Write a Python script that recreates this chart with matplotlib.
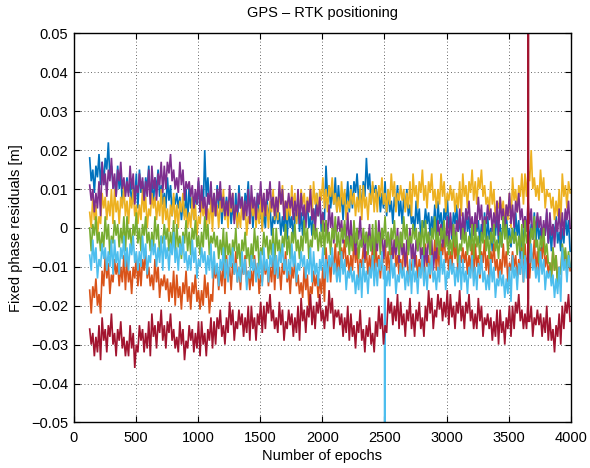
import numpy as np
import matplotlib
matplotlib.use('Agg')
import matplotlib.pyplot as plt

# ---- data: residuals in millimetres, read every 12.5 epochs from epoch 130
#      (each row = one 100-epoch stretch, alternating highs and lows of the noisy trace) ----
epoch_start = 130
epoch_step = 12.5

blue_mm = [
    18, 12, 15, 9, 16, 13, 19, 11,   17, 11, 18, 15, 22, 13, 16, 11,
    12, 8, 16, 10, 14, 6, 11, 9,     13, 9, 12, 6, 11, 7, 14, 5,
    15, 9, 12, 6, 13, 10, 16, 8,     12, 6, 13, 10, 15, 8, 11, 6,
    9, 5, 13, 7, 11, 3, 8, 6,        9, 5, 8, 2, 7, 3, 10, 1,
    11, 5, 8, 2, 9, 6, 12, 4,        10, 4, 20, 8, 13, 6, 9, 4,
    7, 3, 11, 5, 9, 1, 6, 4,         8, 4, 7, 1, 6, 2, 9, 0,
    11, 5, 8, 2, 9, 6, 12, 4,        6, 0, 7, 4, 9, 2, 5, 0,
    4, 0, 8, 2, 6, -2, 3, 1,         5, 1, 4, -2, 3, -1, 6, -3,
    6, 0, 3, -3, 4, 1, 7, -1,        4, -2, 5, 2, 7, 0, 3, -2,
    5, 1, 9, 3, 7, -1, 4, 2,         16, 8, 11, 5, 10, 6, 13, 4,
    11, 5, 8, 2, 9, 6, 12, 4,        11, 5, 12, 9, 14, 7, 10, 5,
    12, 8, 18, 10, 14, 6, 11, 9,     11, 7, 10, 4, 9, 5, 12, 3,
    10, 4, 7, 1, 8, 5, 11, 3,        7, 1, 8, 5, 10, 3, 6, 1,
    3, -1, 7, 1, 5, -3, 2, 0,        5, 1, 4, -2, 3, -1, 6, -3,
    7, 1, 4, -2, 5, 2, 8, 0,         3, -3, 4, 1, 6, -1, 2, -3,
    1, -3, 5, -1, 3, -5, 0, -2,      3, -1, 2, -4, 1, -3, 4, -5,
    3, -3, 0, -6, 1, -2, 4, -4,      1, -5, 2, -1, 4, -3, 0, -5,
    0, -4, 4, -2, 2, -8, -1, -3,     3, -1, 2, -4, 1, -3, 4, -5,
    3, -3, 0, -6, 1, -2, 4, -4,      0, -6, 1, -2, 3, -4, -1, -6,
    0, -4, 4, -2, 2, -6]

orange_mm = [
    -16, -22, -15, -18, -13, -20, -17, -22,   -11, -15, -7, -13, -9, -17, -12, -14,
    -8, -12, -9, -15, -10, -14, -7, -16,      -8, -14, -11, -17, -10, -13, -7, -15,
    -9, -15, -8, -11, -6, -13, -10, -15,      -12, -16, -8, -14, -10, -18, -13, -15,
    -12, -16, -13, -19, -14, -18, -11, -20,   -12, -18, -15, -21, -14, -17, -11, -19,
    -15, -21, -14, -17, -12, -19, -16, -21,   -16, -20, -12, -18, -14, -22, -17, -19,
    -9, -13, -10, -16, -11, -15, -8, -17,     -7, -13, -10, -16, -9, -12, -6, -14,
    -10, -16, -9, -12, -7, -14, -11, -16,     -11, -15, -7, -13, -9, -17, -12, -14,
    -8, -12, -9, -15, -10, -14, -7, -16,      -7, -13, -10, -16, -9, -12, -6, -14,
    -11, -17, -10, -13, -8, -15, -12, -17,    -14, -18, -10, -16, -12, -20, -15, -17,
    -11, -15, -12, -18, -13, -17, -10, -19,   -5, -11, -8, -14, -7, -10, -4, -12,
    -6, -12, -5, -8, -3, -10, -7, -12,        -7, -11, -3, -9, -5, -13, -8, -10,
    -5, -9, -6, -12, -7, -11, -4, -13,        -4, -10, -7, -13, -6, -9, -3, -11,
    -6, -12, -5, -8, -3, -10, -7, -12,        -8, -12, -4, -10, -6, -14, -9, -11,
    -6, -10, -7, -13, -8, -12, -5, -14,       -4, -10, -7, -13, -6, -9, -3, -11,
    -5, -11, -4, -7, -2, -9, -6, -11,         -6, -10, -2, -8, -4, -12, -7, -9,
    -5, -9, -6, -12, -7, -11, -4, -13,        -4, -10, -7, -13, -6, -9, -3, -11,
    -7, -13, -6, -9, -4, -11, -8, -13,        -8, -12, -4, -10, -6, -14, -9, -11,
    -6, -10, -7, -13, -8, -12, -5, -14,       -4, -10, -7, -13, -6, -9, -3, -11,
    -6, -12, -5, -8, -3, -10, -7, -12,        -9, -13, -5, -11, -7, -15, -10, -12,
    -5, -9, -6, -12, -7, -11]

yellow_mm = [
    4, 0, 8, 2, 6, -2, 3, 1,         9, 5, 8, 2, 7, 3, 10, 1,
    10, 4, 7, 1, 8, 5, 11, 3,        7, 1, 8, 5, 10, 3, 6, 1,
    6, 2, 10, 4, 8, 0, 5, 3,         9, 5, 8, 2, 7, 3, 10, 1,
    8, 2, 5, -1, 6, 3, 9, 1,         6, 0, 7, 4, 9, 2, 5, 0,
    4, 0, 8, 2, 6, -2, 3, 1,         7, 3, 6, 0, 5, 1, 8, -1,
    9, 3, 6, 0, 7, 4, 10, 2,         6, 0, 7, 4, 9, 2, 5, 0,
    4, 0, 8, 2, 6, -2, 3, 1,         7, 3, 6, 0, 5, 1, 8, -1,
    9, 3, 6, 0, 7, 4, 10, 2,         8, 2, 9, 6, 11, 4, 7, 2,
    7, 3, 11, 5, 9, 1, 6, 4,         10, 6, 9, 3, 8, 4, 11, 2,
    12, 6, 9, 3, 10, 7, 13, 5,       10, 4, 11, 8, 13, 6, 9, 4,
    8, 4, 12, 6, 10, 2, 7, 5,        10, 6, 9, 3, 8, 4, 11, 2,
    11, 5, 8, 2, 9, 6, 12, 4,        10, 4, 11, 8, 13, 6, 9, 4,
    10, 6, 14, 8, 12, 4, 9, 7,       11, 7, 10, 4, 9, 5, 12, 3,
    14, 8, 11, 5, 12, 9, 15, 7,      11, 5, 12, 9, 14, 7, 10, 5,
    10, 6, 14, 8, 12, 4, 9, 7,       11, 7, 10, 4, 9, 5, 12, 3,
    14, 8, 11, 5, 12, 9, 15, 7,      12, 6, 13, 10, 15, 8, 11, 6,
    8, 4, 12, 6, 10, 2, 7, 5,        8, 4, 7, 1, 6, 2, 9, 0,
    13, 7, 10, 4, 11, 8, 14, 6,      14, 8, 15, 12, 20, 10, 13, 8,
    11, 7, 15, 9, 13, 5, 10, 8,      9, 5, 8, 2, 7, 3, 10, 1,
    14, 8, 11, 5, 12, 9]

purple_mm = [
    11, 7, 10, 4, 9, 5, 12, 3,       17, 11, 14, 8, 15, 12, 18, 10,
    14, 8, 15, 12, 17, 10, 13, 8,    12, 8, 16, 10, 14, 6, 11, 9,
    14, 10, 13, 7, 12, 8, 15, 6,     16, 10, 13, 7, 14, 11, 17, 9,
    16, 10, 17, 14, 19, 12, 15, 10,  13, 9, 17, 11, 15, 7, 12, 10,
    12, 8, 11, 5, 10, 6, 13, 4,      11, 5, 8, 2, 9, 6, 12, 4,
    9, 3, 10, 7, 12, 5, 8, 3,        7, 3, 11, 5, 9, 1, 6, 4,
    9, 5, 8, 2, 7, 3, 10, 1,         11, 5, 8, 2, 9, 6, 12, 4,
    9, 3, 10, 7, 12, 5, 8, 3,        8, 4, 12, 6, 10, 2, 7, 5,
    9, 5, 8, 2, 7, 3, 10, 1,         9, 3, 6, 0, 7, 4, 10, 2,
    5, -1, 6, 3, 8, 1, 4, -1,        2, -2, 6, 0, 4, -4, 1, -1,
    3, -1, 2, -4, 1, -3, 4, -5,      2, -4, -1, -7, 0, -3, 3, -5,
    -2, -8, -1, -4, 1, -6, -3, -8,   -2, -6, 2, -4, 0, -8, -3, -5,
    -1, -5, -2, -8, -3, -7, 0, -9,   -1, -7, -4, -10, -3, -6, 0, -8,
    -4, -10, -3, -6, -1, -8, -5, -10, -5, -9, -1, -7, -3, -11, -6, -8,
    2, -2, 1, -5, 0, -4, 3, -6,      4, -2, 1, -5, 2, -1, 5, -3,
    4, -2, 5, 2, 7, 0, 3, -2,        4, 0, 8, 2, 6, -2, 3, 1,
    6, 2, 5, -1, 4, 0, 7, -2,        8, 2, 5, -1, 6, 3, 9, 1,
    6, 0, 7, 4, 9, 2, 5, 0,          3, -1, 7, 1, 5, -3, 2, 0,
    4, 0, 3, -3, 2, -2, 5, -4,       4, -2, 1, -5, 2, -1, 5, -3,
    4, -2, 5, 2, 7, 0]

green_mm = [
    0, -6, 1, -2, 3, -4, -1, -6,     -1, -5, 3, -3, 1, -7, -2, -4,
    2, -2, 1, -5, 0, -4, 3, -6,      3, -3, 0, -6, 1, -2, 4, -4,
    0, -6, 1, -2, 3, -4, -1, -6,     -1, -5, 3, -3, 1, -7, -2, -4,
    1, -3, 0, -6, -1, -5, 2, -7,     1, -5, -2, -8, -1, -4, 2, -6,
    -1, -7, 0, -3, 2, -5, -2, -7,    -1, -5, 3, -3, 1, -7, -2, -4,
    -1, -5, -2, -8, -3, -7, 0, -9,   -1, -7, -4, -10, -3, -6, 0, -8,
    -4, -10, -3, -6, -1, -8, -5, -10, -4, -8, 0, -6, -2, -10, -5, -7,
    -1, -5, -2, -8, -3, -7, 0, -9,   0, -6, -3, -9, -2, -5, 1, -7,
    -2, -8, -1, -4, 1, -6, -3, -8,   -2, -6, 2, -4, 0, -8, -3, -5,
    1, -3, 0, -6, -1, -5, 2, -7,     2, -4, -1, -7, 0, -3, 3, -5,
    -1, -7, 0, -3, 2, -5, -2, -7,    -2, -6, 2, -4, 0, -8, -3, -5,
    0, -4, -1, -7, -2, -6, 1, -8,    2, -4, -1, -7, 0, -3, 3, -5,
    -1, -7, 0, -3, 2, -5, -2, -7,    -1, -5, 3, -3, 1, -7, -2, -4,
    1, -3, 0, -6, -1, -5, 2, -7,     2, -4, -1, -7, 0, -3, 3, -5,
    -1, -7, 0, -3, 2, -5, -2, -7,    -3, -7, 1, -5, -1, -9, -4, -6,
    0, -4, -1, -7, -2, -6, 1, -8,    1, -5, -2, -8, -1, -4, 2, -6,
    -2, -8, -1, -4, 1, -6, -3, -8,   -1, -5, 3, -3, 1, -7, -2, -4,
    0, -4, -1, -7, -2, -6, 1, -8,    2, -4, -1, -7, 0, -3, 3, -5,
    -3, -9, -2, -5, 0, -7, -4, -9,   -9, -13, -5, -11, -7, -15, -10, -12,
    -4, -8, -5, -11, -6, -10]

lightblue_mm = [
    -7, -11, -3, -9, -5, -13, -8, -10,   -4, -8, -5, -11, -6, -10, -3, -12,
    -3, -9, -6, -12, -5, -8, -2, -10,    -5, -11, -4, -7, -2, -9, -6, -11,
    -6, -10, -2, -8, -4, -12, -7, -9,    -3, -7, -4, -10, -5, -9, -2, -11,
    -2, -8, -5, -11, -4, -7, -1, -9,     -5, -11, -4, -7, -2, -9, -6, -11,
    -7, -11, -3, -9, -5, -13, -8, -10,   -5, -9, -6, -12, -7, -11, -4, -13,
    -6, -12, -9, -15, -8, -11, -5, -13,  -8, -14, -7, -10, -5, -12, -9, -14,
    -10, -14, -6, -12, -8, -16, -11, -13, -7, -11, -8, -14, -9, -13, -6, -15,
    -5, -11, -8, -14, -7, -10, -4, -12,  -7, -13, -6, -9, -4, -11, -8, -13,
    -8, -12, -4, -10, -6, -14, -9, -11,  -6, -10, -7, -13, -8, -12, -5, -14,
    -6, -12, -9, -15, -8, -11, -5, -13,  -8, -14, -7, -10, -5, -12, -9, -14,
    -10, -14, -6, -12, -8, -16, -11, -13, -10, -14, -11, -17, -12, -16, -9, -18,
    -8, -14, -11, -17, -10, -13, -7, -15, -9, -15, -8, -11, -6, -13, -10, -15,
    -11, -15, -7, -13, -9, -17, -12, -14, -9, -13, -10, -16, -11, -15, -8, -17,
    -8, -14, -11, -17, -10, -13, -7, -15, -10, -16, -9, -12, -7, -14, -11, -16,
    -10, -14, -6, -12, -8, -16, -11, -13, -8, -12, -9, -15, -10, -14, -7, -16,
    -8, -14, -11, -17, -10, -13, -7, -15, -10, -16, -9, -12, -7, -14, -11, -16,
    -12, -16, -8, -14, -10, -18, -13, -15, -11, -15, -12, -18, -13, -17, -10, -19,
    -7, -13, -10, -16, -9, -12, -6, -14,  -7, -13, -6, -9, -4, -11, -8, -13,
    -10, -14, -6, -12, -8, -16, -11, -13, -11, -15, -12, -18, -13, -17, -10, -19,
    -5, -11, -8, -14, -7, -10]

darkred_mm = [
    -26, -30, -27, -33, -28, -32, -25, -34,  -23, -29, -26, -32, -25, -28, -22, -30,
    -27, -33, -26, -29, -24, -31, -28, -33,  -29, -33, -25, -31, -27, -36, -30, -32,
    -25, -29, -26, -32, -27, -31, -24, -33,  -22, -28, -25, -31, -24, -27, -21, -29,
    -25, -31, -24, -27, -22, -29, -26, -31,  -28, -32, -24, -30, -26, -34, -29, -31,
    -25, -29, -26, -32, -27, -31, -24, -33,  -24, -30, -27, -33, -26, -29, -23, -31,
    -24, -30, -23, -26, -21, -28, -25, -30,  -23, -27, -19, -25, -21, -29, -24, -26,
    -21, -25, -22, -28, -23, -27, -20, -29,  -20, -26, -23, -29, -22, -25, -19, -27,
    -20, -26, -19, -22, -17, -24, -21, -26,  -23, -27, -19, -25, -21, -29, -24, -26,
    -21, -25, -22, -28, -23, -27, -20, -29,  -18, -24, -21, -27, -20, -23, -17, -25,
    -20, -26, -19, -22, -17, -24, -21, -26,  -20, -24, -16, -22, -18, -26, -21, -23,
    -21, -25, -22, -28, -23, -27, -20, -29,  -22, -28, -25, -31, -24, -27, -21, -29,
    -26, -32, -25, -28, -23, -30, -27, -32,  -24, -28, -20, -26, -22, -30, -25, -27,
    -18, -22, -19, -25, -20, -24, -17, -26,  -19, -25, -22, -28, -21, -24, -18, -26,
    -22, -28, -21, -24, -19, -26, -23, -28,  -20, -24, -16, -22, -18, -26, -21, -23,
    -17, -21, -18, -24, -19, -23, -16, -25,  -17, -23, -20, -26, -19, -22, -16, -24,
    -20, -26, -19, -22, -17, -24, -21, -26,  -22, -26, -18, -24, -20, -28, -23, -25,
    -22, -26, -23, -29, -24, -28, -21, -30,  -21, -27, -24, -30, -23, -26, -20, -28,
    -20, -26, -19, -22, -17, -24, -21, -26,  -22, -26, -18, -24, -20, -28, -23, -25,
    -21, -25, -22, -28, -23, -27, -20, -29,  -23, -29, -26, -32, -25, -28, -22, -30,
    -20, -26, -19, -22, -17, -24]

# isolated outliers (epoch, value in m) -- both run off the axes
lightblue_spike_epoch = 2502
lightblue_spike_value = -0.075
darkred_spike_epoch = 3657
darkred_spike_value = 0.075

series_names = ['blue', 'orange', 'yellow', 'purple', 'green', 'lightblue', 'darkred']
series_colors = ['#0072BD', '#D95319', '#EDB120', '#7E2F8E', '#77AC30', '#4DBEEE', '#A2142F']

x_ticks = [0, 500, 1000, 1500, 2000, 2500, 3000, 3500, 4000]
y_ticks = [-0.05, -0.04, -0.03, -0.02, -0.01, 0, 0.01, 0.02, 0.03, 0.04, 0.05]
y_tick_labels = ['\u22120.05', '\u22120.04', '\u22120.03', '\u22120.02', '\u22120.01', '0',
                 '0.01', '0.02', '0.03', '0.04', '0.05']

series_mm = {'blue': blue_mm, 'orange': orange_mm, 'yellow': yellow_mm,
             'purple': purple_mm, 'green': green_mm, 'lightblue': lightblue_mm,
             'darkred': darkred_mm}
spikes = {'lightblue': (lightblue_spike_epoch, lightblue_spike_value),
          'darkred': (darkred_spike_epoch, darkred_spike_value)}

plt.rcParams['font.family'] = ['Liberation Sans', 'DejaVu Sans']
plt.rcParams['font.size'] = 10.5

fig = plt.figure(figsize=(5.9, 4.68), dpi=100)
ax = fig.add_axes([0.1246, 0.0974, 0.8432, 0.8312])

for name, color in zip(series_names, series_colors):
    vals = np.array(series_mm[name], dtype=float) / 1000.0
    x = epoch_start + epoch_step * np.arange(len(vals)).astype(float)
    if name in spikes:
        se, sv = spikes[name]
        idx = int(np.searchsorted(x, se))
        x = np.insert(x, idx, [se - 1, se, se + 1])
        vals = np.insert(vals, idx, [vals[idx - 1], sv, vals[idx]])
    ax.plot(x, vals, color=color, lw=1.2, solid_joinstyle='miter')

ax.set_xlim(0, 4000)
ax.set_ylim(-0.05, 0.05)
ax.set_xticks(x_ticks)
ax.set_xticklabels([str(t) for t in x_ticks])
ax.set_yticks(y_ticks)
ax.set_yticklabels(y_tick_labels)
ax.tick_params(direction='in', top=True, right=True, length=4, width=0.8)
ax.tick_params(axis='x', pad=6)
ax.tick_params(axis='y', pad=4)
ax.grid(True, linestyle=(0, (1, 3)), color='#333333', linewidth=0.6)
for sp in ax.spines.values():
    sp.set_linewidth(1.0)

ax.set_xlabel('Number of epochs', labelpad=3)
ax.set_ylabel('Fixed phase residuals [m]', labelpad=6)
ax.set_title('GPS \u2013 RTK positioning', fontsize=10.5, pad=12)

fig.savefig('out.png', dpi=100)
